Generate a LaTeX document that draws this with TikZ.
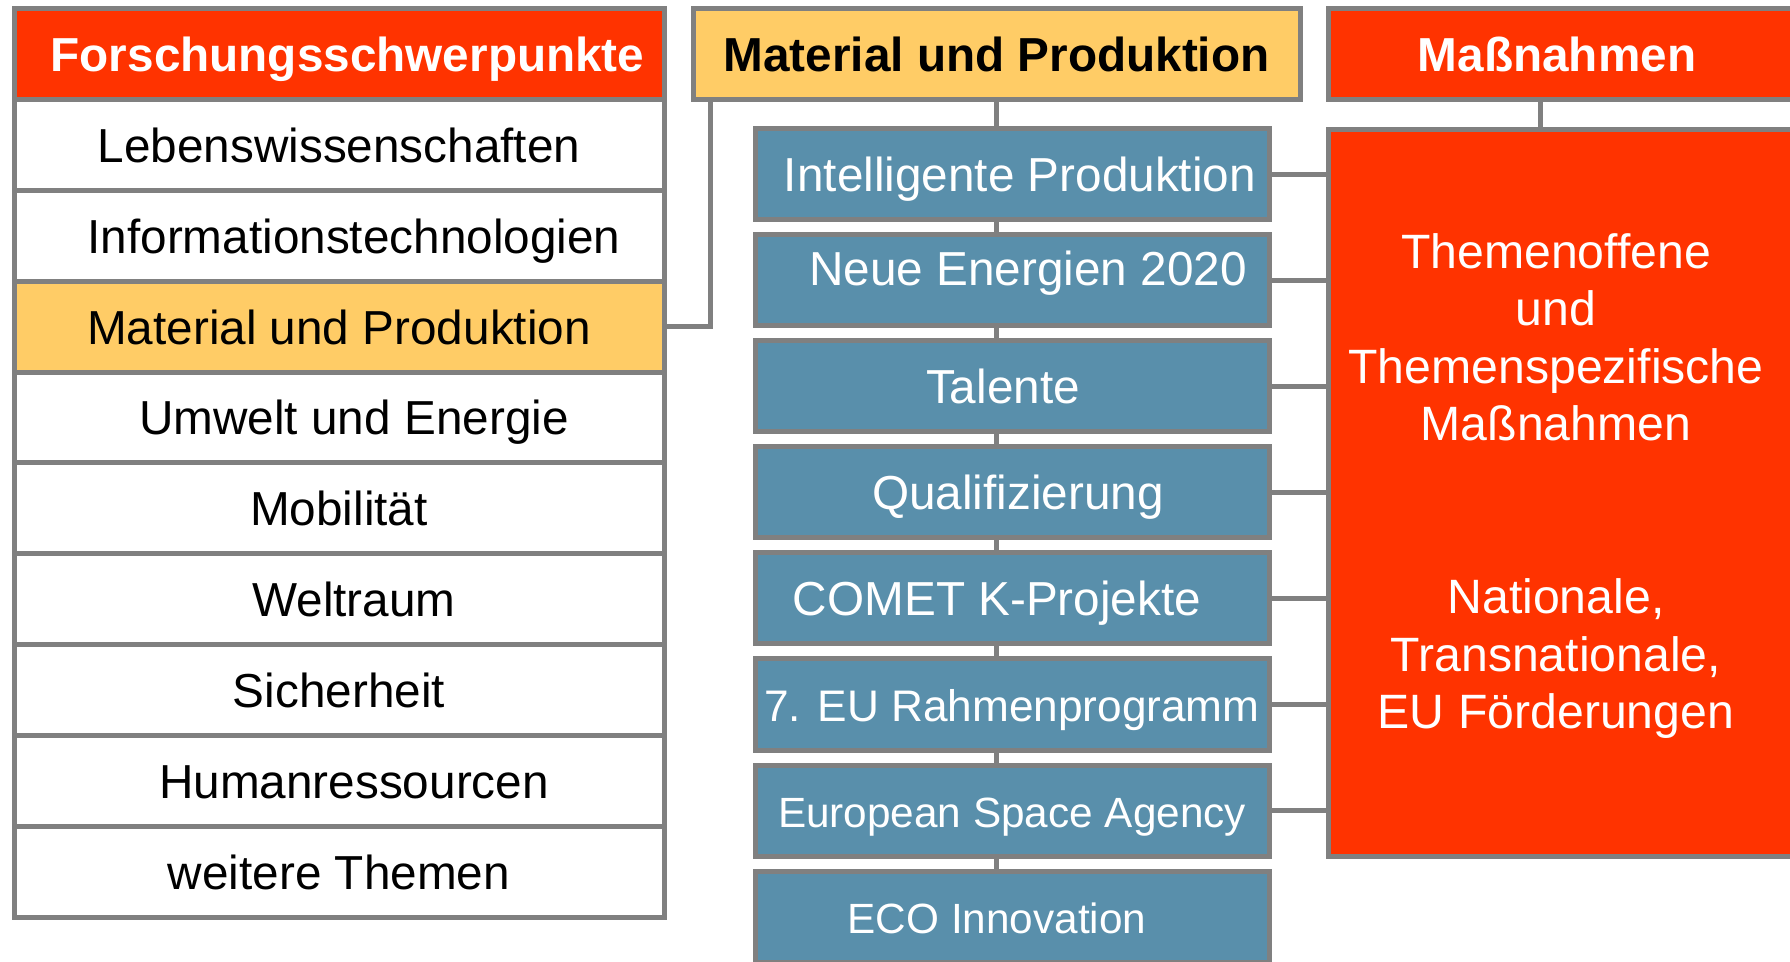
\documentclass[tikz,border=0pt]{standalone}
\usepackage{fontspec}
\setmainfont{Liberation Sans}
\usepackage{tikz}
\usetikzlibrary{positioning, backgrounds}
\definecolor{rahmen}{rgb}{0.5,0.5,0.5}
\definecolor{Rot}{rgb}{1,0.2,0}
\definecolor{Gelb}{rgb}{1,0.8,0.4}
\definecolor{Blau}{rgb}{0.35,0.56,0.67}
\newcommand{\gross}{\fontsize{23.85pt}{28.75pt}\selectfont}
\newcommand{\mittel}{\fontsize{22.1pt}{26pt}\selectfont}
\newcommand{\klein}{\fontsize{21.15pt}{25pt}\selectfont}
\tikzstyle{feld}=[%
      rectangle, draw=rahmen, line width=2.5pt, fill=white,
      minimum width=325pt, minimum height=45.4pt, inner sep=0pt, outer sep=0pt, font=\gross,
      text height=17.4pt, text depth=0pt
]
\tikzstyle{kopf}=[feld, fill=Rot, text=white, font=\gross\bfseries]
\tikzstyle{thema}=[feld, fill=Gelb]
\tikzstyle{prog}=[%
      rectangle, draw=rahmen, line width=2.5pt, fill=Blau, text=white,
      minimum width=257pt, minimum height=45.5pt, inner sep=0pt, outer sep=0pt, font=\gross,
      text height=17.4pt, text depth=0pt
]
\tikzstyle{massbox}=[%
      rectangle, draw=rahmen, line width=2.5pt, fill=Rot, text=white,
      inner sep=0pt, outer sep=0pt, font=\fontsize{24.1pt}{28.75pt}\selectfont
]
\tikzstyle{linie}=[draw=rahmen, line width=2.5pt]

\begin{document}
\begin{tikzpicture}[x=0.5pt, y=-0.5pt]
    \useasboundingbox (0,0) rectangle (1790,962);
    \clip (0,0) rectangle (1790,962);

    % Forschungsschwerpunkte
    \node[kopf]   (fs) at (339,54.4)          {\hspace*{8.5pt}Forschungsschwerpunkte};
    \node[feld]   (leb)  [below = 0pt of fs]  {Lebenswissenschaften};
    \node[feld]   (info) [below = 0pt of leb] {\hspace*{15pt}Informationstechnologien};
    \node[thema]  (mat)  [below = 0pt of info] {Material und Produktion};
    \node[feld]   (umw)  [below = 0pt of mat] {\hspace*{15pt}Umwelt und Energie};
    \node[feld]   (mob)  [below = 0pt of umw] {Mobilität};
    \node[feld]   (welt) [below = 0pt of mob] {\hspace*{15pt}Weltraum};
    \node[feld]   (sich) [below = 0pt of welt] {Sicherheit};
    \node[feld]   (hum)  [below = 0pt of sich] {\hspace*{15pt}Humanressourcen};
    \node[feld]   (wt)   [below = 0pt of hum] {weitere Themen};

    % Material und Produktion
    \node[kopf, fill=Gelb, text=black, minimum width=303.5pt, minimum height=45.5pt]
          (mp0) [right = 14.5pt of fs] {Material und Produktion};
    \node[prog]   (ip) at (1012,174.5) {\hspace*{8pt}Intelligente Produktion};
    \node[prog, text depth=12.4pt] (ne) [below = 7.5pt of ip] {\hspace*{16pt}Neue Energien 2020};
    \node[prog]   (ta)  [below = 7.5pt of ne] {Talente\hspace*{9pt}};
    \node[prog]   (qu)  [below = 7.5pt of ta] {\hspace*{6pt}Qualifizierung};
    \node[prog]   (co)  [below = 7.5pt of qu] {COMET K-Projekte\hspace*{15pt}};
    \node[prog, font=\mittel] (eu) [below = 7.5pt of co] {7. EU Rahmenprogramm};
    \node[prog, font=\klein]  (es) [below = 7.5pt of eu] {European Space Agency};
    \node[prog, font=\klein]  (eco) [below = 7.5pt of es] {ECO Innovation\hspace*{15pt}};

    % Massnahmen
    \node[kopf, minimum width=0pt, minimum height=45.5pt]
          (mhead) [right = 14pt of mp0] {\parbox[b]{229pt}{\centering Maßnahmen}\hspace*{100pt}};
    \node[massbox, minimum height=363.5pt]
          (mbox) [below = 15pt of mhead.south west, anchor=north west]
          {\parbox{228pt}{\centering Themenoffene\\und\\Themenspezifische\\Maßnahmen\\[57.75pt]
           Nationale,\\Transnationale,\\EU Förderungen\par\vspace*{7.6pt}}\hspace*{100pt}};

    \begin{scope}[on background layer]
      \draw[linie] (mp0.south) -- (mp0.south |- eco.north);
    \end{scope}

    \draw[linie] (mat.east) -| ([xshift=8.5pt]mp0.south west);
    \draw[linie] ([xshift=106.4pt]mhead.south west) -- ([xshift=106.4pt]mbox.north west);
    \foreach \p in {ip,ne,ta,qu,co,eu,es}
      \draw[linie] (\p.east) -- (\p.east -| mbox.west);

  \end{tikzpicture}
\end{document}
